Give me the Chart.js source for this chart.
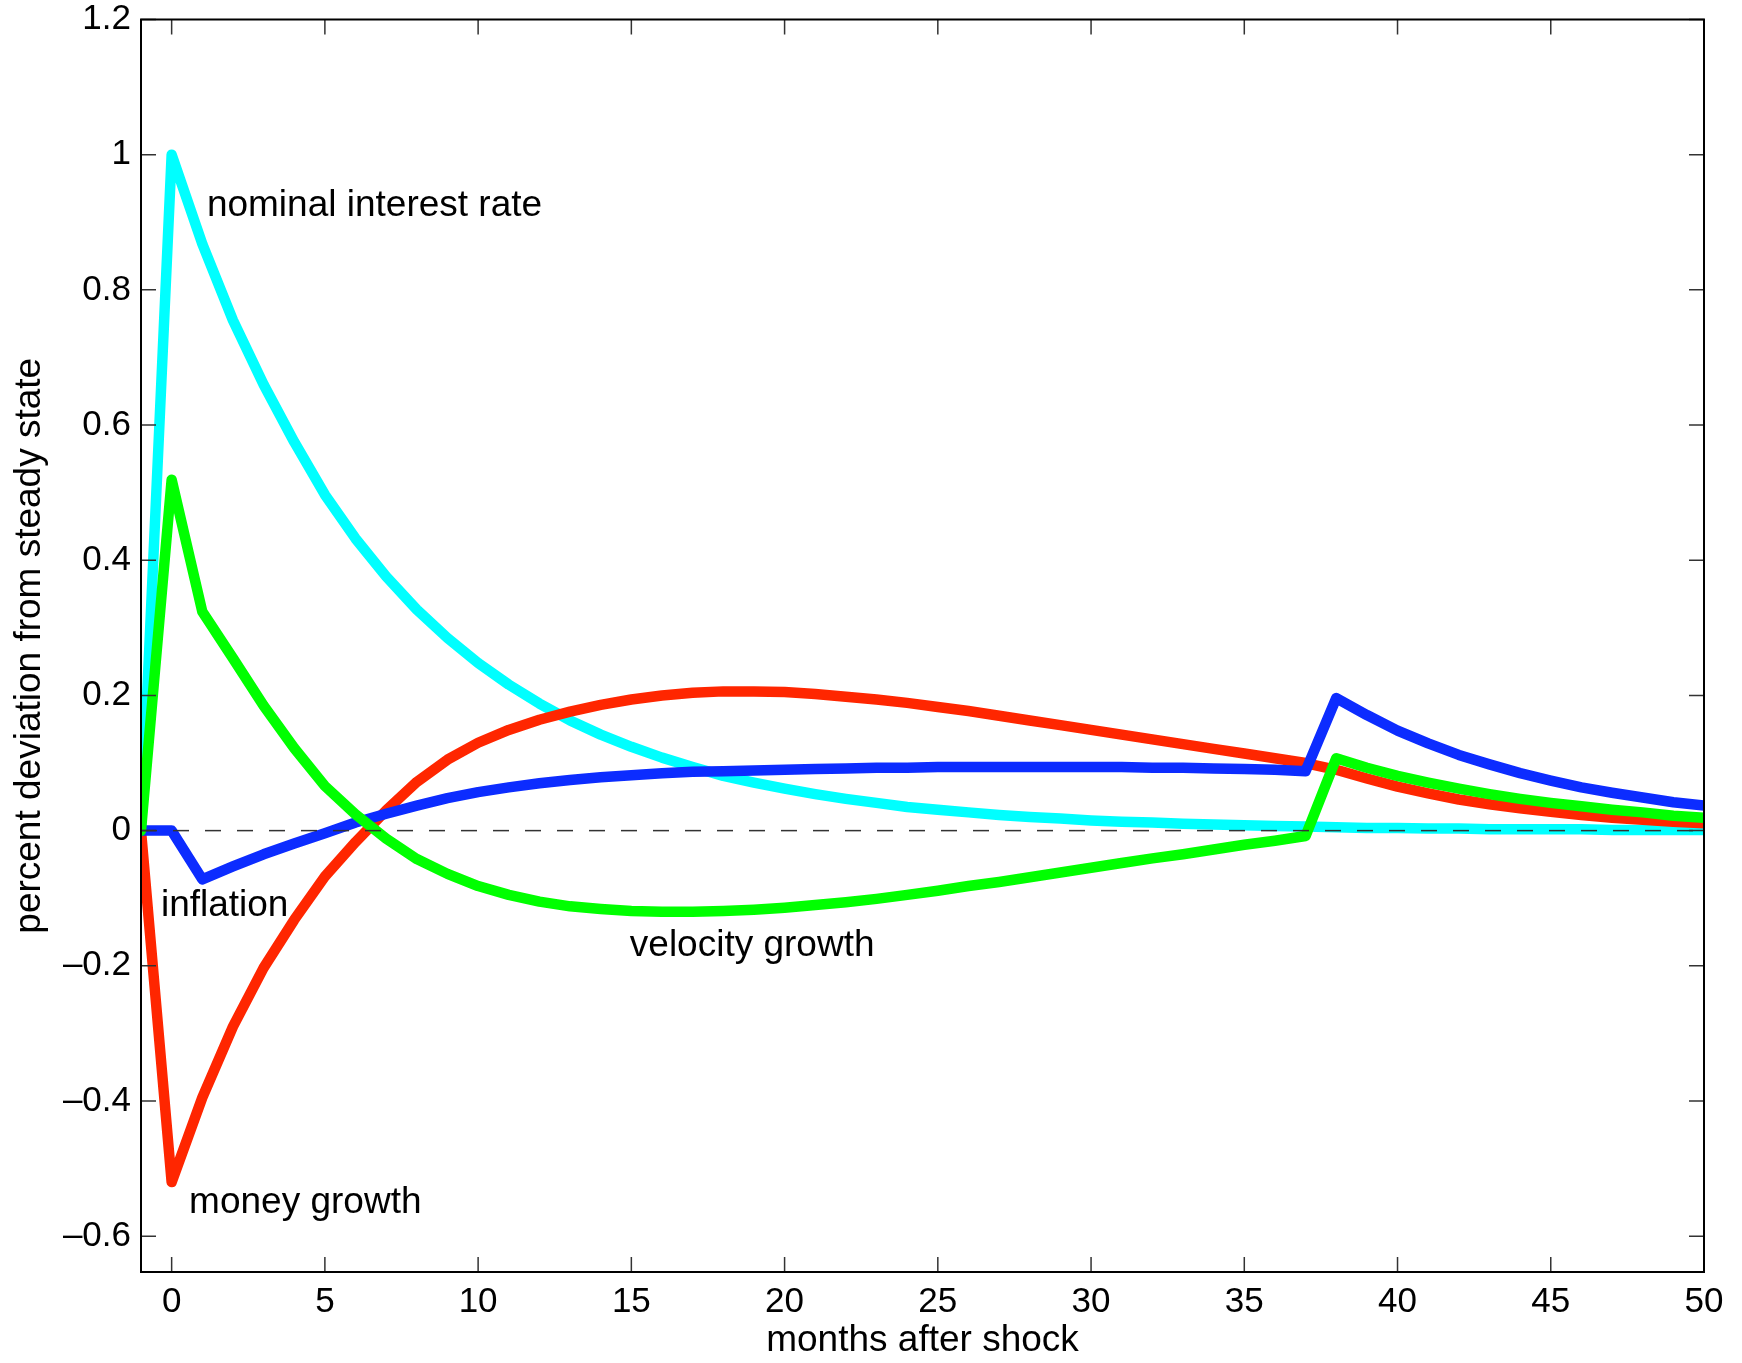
<!DOCTYPE html>
<html>
<head>
<meta charset="utf-8">
<script src="https://cdn.jsdelivr.net/npm/chart.js@4.4.1/dist/chart.umd.min.js"></script>
<style>
    html, body { margin: 0; padding: 0; background: #fff; }
    #wrap { width: 1742px; height: 1363px; }
</style>
</head>
<body>
<div id="wrap"><canvas id="irf"></canvas></div>
<script>
const months = [-1, 0, 1, 2, 3, 4, 5, 6, 7, 8, 9, 10, 11, 12, 13, 14, 15, 16, 17, 18, 19, 20,
    21, 22, 23, 24, 25, 26, 27, 28, 29, 30, 31, 32, 33, 34, 35, 36, 37, 38, 39, 40,
    41, 42, 43, 44, 45, 46, 47, 48, 49, 50];

const nominalRate = [0, 1.000, 0.868, 0.755, 0.660, 0.575, 0.497, 0.432, 0.376, 0.327, 0.285,
    0.248, 0.216, 0.188, 0.163, 0.142, 0.124, 0.108, 0.094, 0.081, 0.071, 0.062, 0.054,
    0.047, 0.041, 0.035, 0.031, 0.027, 0.023, 0.020, 0.018, 0.015, 0.013, 0.012, 0.010,
    0.009, 0.008, 0.007, 0.006, 0.005, 0.004, 0.004, 0.003, 0.003, 0.002, 0.002, 0.002,
    0.002, 0.001, 0.001, 0.001, 0.001];

const velocityGrowth = [0, 0.519, 0.324, 0.255, 0.185, 0.122, 0.066, 0.024, -0.012, -0.042,
    -0.064, -0.082, -0.095, -0.105, -0.112, -0.116, -0.119, -0.120, -0.120, -0.119, -0.117,
    -0.114, -0.110, -0.106, -0.101, -0.095, -0.089, -0.082, -0.076, -0.069, -0.062, -0.055,
    -0.048, -0.041, -0.035, -0.028, -0.021, -0.015, -0.008, 0.107, 0.093, 0.081, 0.071,
    0.062, 0.054, 0.047, 0.041, 0.036, 0.031, 0.027, 0.022, 0.019];

const inflation = [0, 0, -0.072, -0.053, -0.035, -0.019, -0.004, 0.012, 0.025, 0.037, 0.048,
    0.057, 0.064, 0.070, 0.075, 0.079, 0.082, 0.085, 0.087, 0.088, 0.089, 0.090, 0.091,
    0.092, 0.093, 0.093, 0.094, 0.094, 0.094, 0.094, 0.094, 0.094, 0.094, 0.093, 0.093,
    0.092, 0.091, 0.090, 0.088, 0.196, 0.171, 0.148, 0.129, 0.112, 0.098, 0.085, 0.074,
    0.064, 0.056, 0.049, 0.042, 0.037];

const moneyGrowth = [0, -0.520, -0.395, -0.290, -0.203, -0.132, -0.068, -0.017, 0.030, 0.072,
    0.105, 0.130, 0.149, 0.164, 0.176, 0.186, 0.194, 0.200, 0.204, 0.206, 0.206, 0.205,
    0.202, 0.198, 0.194, 0.189, 0.183, 0.177, 0.170, 0.163, 0.156, 0.149, 0.142, 0.135,
    0.128, 0.121, 0.114, 0.107, 0.100, 0.090, 0.077, 0.065, 0.055, 0.046, 0.039, 0.033,
    0.028, 0.023, 0.019, 0.016, 0.013, 0.011];

// steady state reference line
const zeroLineX = [-1, 50];
const zeroLineY = [0, 0];

const xTicks = [0, 5, 10, 15, 20, 25, 30, 35, 40, 45, 50];
const xTickLabels = ['0', '5', '10', '15', '20', '25', '30', '35', '40', '45', '50'];
const yTicks = [-0.6, -0.4, -0.2, 0, 0.2, 0.4, 0.6, 0.8, 1, 1.2];
const yTickLabels = ['\u20130.6', '\u20130.4', '\u20130.2', '0', '0.2', '0.4', '0.6', '0.8', '1', '1.2'];

// in-plot labels, placed in data coordinates
const notes = [
    { text: 'nominal interest rate', x: 1.15, y: 0.909 },
    { text: 'inflation', x: -0.35, y: -0.127 },
    { text: 'velocity growth', x: 14.95, y: -0.186 },
    { text: 'money growth', x: 0.57, y: -0.565 }
];

const colors = {
    nominal: '#00ffff',
    velocity: '#00ff00',
    inflation: '#0c2cff',
    money: '#ff2600',
    zero: '#333333'
};

const fontFamily = '"Liberation Sans", Arial, Helvetica, sans-serif';

function toPoints(xs, ys) {
    return xs.map((x, i) => ({ x: x, y: ys[i] }));
}

function series(values, color) {
    return {
        data: toPoints(months, values),
        borderColor: color,
        borderWidth: 10.5,
        borderJoinStyle: 'round',
        borderCapStyle: 'round',
        pointRadius: 0,
        tension: 0,
        fill: false,
        clip: 0
    };
}

const frameAndNotes = {
    id: 'frameAndNotes',
    afterDatasetsDraw(chart) {
        const { ctx, chartArea: a, scales: { x, y } } = chart;
        ctx.save();
        // inward tick marks on all four sides
        ctx.strokeStyle = '#333';
        ctx.lineWidth = 1.5;
        ctx.beginPath();
        xTicks.forEach(v => {
            const px = x.getPixelForValue(v);
            ctx.moveTo(px, a.bottom); ctx.lineTo(px, a.bottom - 15);
            ctx.moveTo(px, a.top); ctx.lineTo(px, a.top + 15);
        });
        yTicks.forEach(v => {
            const py = y.getPixelForValue(v);
            ctx.moveTo(a.left, py); ctx.lineTo(a.left + 15, py);
            ctx.moveTo(a.right, py); ctx.lineTo(a.right - 15, py);
        });
        ctx.stroke();
        ctx.strokeStyle = '#000';
        ctx.lineWidth = 2;
        ctx.strokeRect(a.left, a.top, a.right - a.left, a.bottom - a.top);

        ctx.fillStyle = '#000';
        ctx.font = '37px ' + fontFamily;
        ctx.textAlign = 'left';
        ctx.textBaseline = 'alphabetic';
        notes.forEach(n => {
            ctx.fillText(n.text, x.getPixelForValue(n.x), y.getPixelForValue(n.y));
        });
        ctx.restore();
    }
};

new Chart(document.getElementById('irf').getContext('2d'), {
    type: 'line',
    data: {
        datasets: [
            {
                data: toPoints(zeroLineX, zeroLineY),
                borderColor: colors.zero,
                borderWidth: 1.5,
                borderDash: [16, 16],
                pointRadius: 0,
                fill: false,
                clip: 0
            },
            series(velocityGrowth, colors.velocity),
            series(inflation, colors.inflation),
            series(moneyGrowth, colors.money),
            series(nominalRate, colors.nominal)
        ]
    },
    options: {
        responsive: true,
        maintainAspectRatio: false,
        animation: false,
        events: [],
        layout: { padding: { left: 0, right: 38, top: 13, bottom: 0 } },
        plugins: {
            legend: { display: false },
            tooltip: { enabled: false }
        },
        scales: {
            x: {
                type: 'linear',
                min: -1,
                max: 50,
                afterBuildTicks: s => { s.ticks = xTicks.map(v => ({ value: v })); },
                afterFit: s => { s.height = 91; },
                grid: { display: false },
                border: { display: false },
                ticks: {
                    autoSkip: false,
                    maxRotation: 0,
                    padding: 5,
                    color: '#000',
                    font: { family: fontFamily, size: 35, lineHeight: 1 },
                    callback: (v, i) => xTickLabels[i]
                },
                title: {
                    display: true,
                    text: 'months after shock',
                    color: '#000',
                    font: { family: fontFamily, size: 37, lineHeight: 1 },
                    padding: { top: 0, bottom: 4 }
                }
            },
            y: {
                min: -0.653,
                max: 1.2,
                afterBuildTicks: s => { s.ticks = yTicks.map(v => ({ value: v })); },
                afterFit: s => { s.width = 141; },
                grid: { display: false },
                border: { display: false },
                ticks: {
                    autoSkip: false,
                    padding: 2,
                    color: '#000',
                    font: { family: fontFamily, size: 35, lineHeight: 1 },
                    callback: (v, i) => yTickLabels[i]
                },
                title: {
                    display: true,
                    text: 'percent deviation from steady state',
                    color: '#000',
                    font: { family: fontFamily, size: 37, lineHeight: 1 },
                    padding: { top: 11, bottom: 0 }
                }
            }
        }
    },
    plugins: [frameAndNotes]
});
</script>
</body>
</html>
